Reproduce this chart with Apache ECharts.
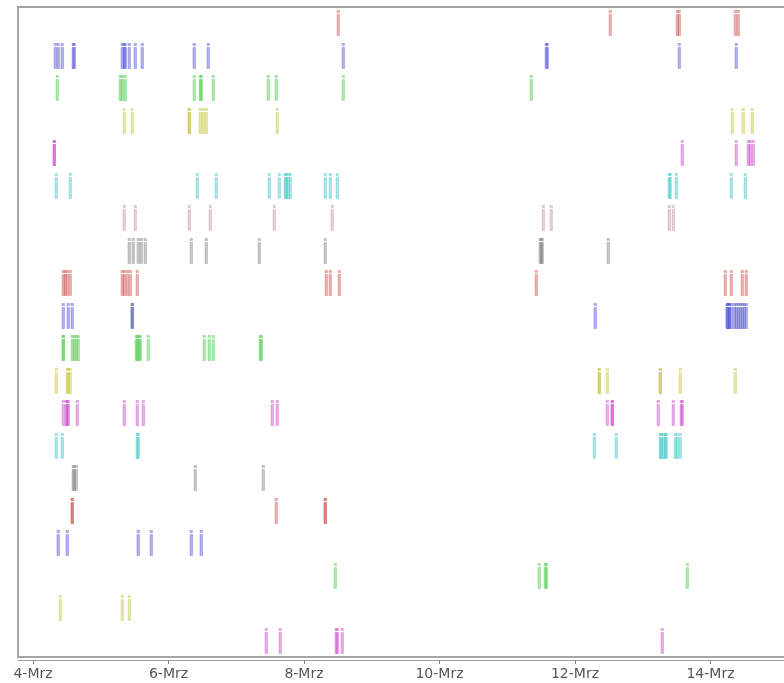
<!DOCTYPE html>
<html>
<head>
<meta charset="utf-8">
<title>Events per row</title>
<script src="https://cdn.jsdelivr.net/npm/echarts@6/dist/echarts.min.js"></script>
<style>
  html, body { margin: 0; padding: 0; background: #fff; overflow: hidden; }
  #chart { width: 800px; height: 683px; }
</style>
</head>
<body>
<div id="chart"></div>
<script>
// rows, top to bottom
const rowNames = ['R1', 'R2', 'R3', 'R4', 'R5', 'R6', 'R7', 'R8', 'R9', 'R10',
  'R11', 'R12', 'R13', 'R14', 'R15', 'R16', 'R17', 'R18', 'R19', 'R20']

const red = '#d04848', blue = '#4848d8', green = '#40c840', yellow = '#c0c030'
const magenta = '#c840c8', cyan = '#38c4c4', rosy = '#c09090', gray = '#7c7c7c'
const rowColors = [red, blue, green, yellow, magenta, cyan, rosy, gray, red, blue,
  green, yellow, magenta, cyan, gray, red, blue, green, yellow, magenta]

// event times, day of March (fractional)
const eventDays = [
  [8.50, 12.52, 13.51, 13.53, 14.36, 14.41],
  [4.32, 4.37, 4.43, 4.59, 4.60, 5.32, 5.34, 5.36, 5.41, 5.50, 5.61, 6.37, 6.58, 8.58, 11.57, 11.58, 13.53, 14.37],
  [4.35, 5.28, 5.31, 5.36, 6.37, 6.47, 6.48, 6.66, 7.47, 7.58, 8.58, 11.35],
  [5.35, 5.46, 6.30, 6.31, 6.46, 6.51, 6.56, 7.60, 14.32, 14.48, 14.62],
  [4.31, 4.31, 13.58, 14.37, 14.55, 14.59, 14.63],
  [4.34, 4.54, 6.42, 6.70, 7.48, 7.63, 7.72, 7.74, 7.76, 7.79, 8.31, 8.38, 8.48, 13.39, 13.41, 13.49, 14.30, 14.51],
  [5.34, 5.50, 6.30, 6.62, 7.55, 8.41, 11.53, 11.64, 13.39, 13.44],
  [5.41, 5.48, 5.55, 5.59, 5.66, 6.33, 6.55, 7.34, 8.31, 11.48, 11.50, 11.52, 12.49],
  [4.44, 4.47, 4.50, 4.54, 5.31, 5.35, 5.39, 5.43, 5.53, 8.32, 8.38, 8.51, 11.42, 14.22, 14.30, 14.46, 14.52],
  [4.44, 4.51, 4.58, 5.46, 5.46, 12.29, 14.24, 14.25, 14.27, 14.28, 14.31, 14.34, 14.37, 14.40, 14.43, 14.46, 14.50, 14.53],
  [4.44, 4.45, 4.58, 4.60, 4.63, 4.66, 5.52, 5.54, 5.56, 5.58, 5.70, 6.53, 6.60, 6.66, 7.35, 7.36],
  [4.34, 4.50, 4.52, 4.55, 12.35, 12.36, 12.48, 13.25, 13.26, 13.55, 14.36],
  [4.45, 4.48, 4.50, 4.52, 4.65, 5.35, 5.53, 5.62, 7.53, 7.60, 12.48, 12.54, 12.55, 13.23, 13.44, 13.57, 13.58],
  [4.34, 4.43, 5.54, 5.55, 12.28, 12.61, 13.25, 13.27, 13.30, 13.33, 13.35, 13.48, 13.50, 13.55],
  [4.59, 4.61, 4.64, 6.39, 7.39],
  [4.57, 4.58, 7.58, 8.31, 8.31],
  [4.37, 4.50, 5.55, 5.74, 6.33, 6.48],
  [8.46, 11.47, 11.56, 11.57, 13.66],
  [4.40, 5.31, 5.42],
  [7.44, 7.64, 8.47, 8.48, 8.56, 13.29]
]

const tickDays = [4, 6, 8, 10, 12, 14]

const points = []
eventDays.forEach((days, row) => {
  days.forEach((d) => points.push([d, row]))
})

const chart = echarts.init(document.getElementById('chart'))
chart.setOption({
  animation: false,
  grid: {
    left: 18,
    top: 7,
    right: 6,
    bottom: 26,
    show: true,
    backgroundColor: '#fff',
    borderColor: '#a4a4a4',
    borderWidth: 2
  },
  xAxis: {
    type: 'value',
    min: 3.7786,
    max: 15.233,
    offset: 3,
    splitLine: { show: false },
    axisLine: { show: true, lineStyle: { color: '#a0a0a0', width: 1 } },
    axisTick: { show: true, customValues: tickDays, length: 4, lineStyle: { color: '#888' } },
    axisLabel: {
      customValues: tickDays,
      formatter: (v) => v + '-Mrz',
      color: '#555',
      fontFamily: 'DejaVu Sans',
      fontSize: 14,
      margin: 7
    }
  },
  yAxis: {
    type: 'category',
    data: rowNames,
    inverse: true,
    show: false
  },
  series: [{
    type: 'custom',
    data: points,
    renderItem: (params, api) => {
      const p = api.coord([api.value(0), api.value(1)])
      const band = api.size([0, 1])[1]
      const x = Math.round(p[0]) - 1.5
      const top = Math.round(p[1] - band * 0.4)
      const color = rowColors[api.value(1)]
      const style = { fill: color, stroke: color, fillOpacity: 0.42, strokeOpacity: 0.3, lineWidth: 1 }
      return {
        type: 'group',
        children: [
          { type: 'rect', shape: { x: x + 0.5, y: top + 0.5, width: 2.5, height: 2 }, style: style },
          { type: 'rect', shape: { x: x + 0.5, y: top + 4.5, width: 2.5, height: 21 }, style: style }
        ]
      }
    }
  }]
})
</script>
</body>
</html>
